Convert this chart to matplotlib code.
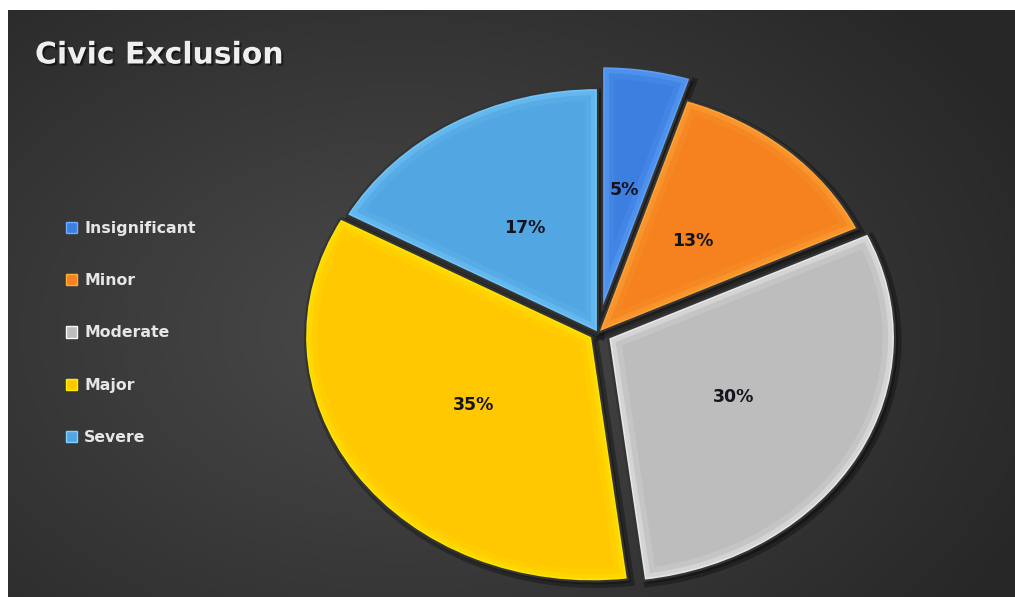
import numpy as np
import matplotlib
matplotlib.use("Agg")
import matplotlib.pyplot as plt
import matplotlib.patches as mpatches
import matplotlib.patheffects as pe

# categories and shares (percent), clockwise from 12 o'clock
categories = ["Insignificant", "Minor", "Moderate", "Major", "Severe"]
shares = [5, 13, 30, 35, 17]
explode = [0.09, 0.0, 0.04, 0.025, 0.0]

fill_colors = ["#3d7fe0", "#f5821f", "#bdbdbd", "#ffc800", "#52a6e2"]
rim_colors = ["#6aaeff", "#ffb040", "#f8f8f8", "#fff000", "#7fd2ff"]

W, H = 1015, 597
fig = plt.figure(figsize=(W / 100, H / 100), dpi=100)
fig.patch.set_facecolor("white")

# dark panel with soft radial shading
px0, py0 = 8, 10
bg = fig.add_axes([px0 / W, 0, 1 - px0 / W, (H - py0) / H])
yy, xx = np.mgrid[py0:H, px0:W]
d = np.sqrt(((xx - 400) / 700.0) ** 2 + ((yy - 330) / 480.0) ** 2)
d = np.clip(d, 0, 1)
c_in = np.array([0x4a, 0x4a, 0x4a]) / 255
c_out = np.array([0x27, 0x27, 0x27]) / 255
img = c_in[None, None, :] * (1 - d[..., None]) + c_out[None, None, :] * d[..., None]
bg.imshow(img, aspect="auto", interpolation="bilinear")
bg.axis("off")

# pie axes spans whole figure; stretched so the pie is an ellipse
ax = fig.add_axes([0, 0, 1, 1])
ax.patch.set_visible(False)
cx, cy, rx, ry = 598, 333, 287, 245

wedges, texts, autotexts = ax.pie(
    shares, colors=fill_colors, explode=explode, startangle=90,
    counterclock=False, autopct="%1.0f%%", pctdistance=0.5,
    wedgeprops=dict(linewidth=0),
    textprops=dict(color="#14141e", fontsize=12.5, fontweight="bold"),
)
ax.set_aspect("auto")
ax.set_xlim(-cx / rx, (W - cx) / rx)
ax.set_ylim((cy - H) / ry, cy / ry)
ax.axis("off")

for w, rim in zip(wedges, rim_colors):
    geo = dict(center=w.center, r=w.r, theta1=w.theta1, theta2=w.theta2)
    # drop shadow
    sh = mpatches.Wedge(**geo, facecolor="black", edgecolor="black",
                        alpha=0.3, lw=5, zorder=0.5)
    sh.set_transform(ax.transData + matplotlib.transforms.ScaledTranslation(
        3 / 100, -3 / 100, fig.dpi_scale_trans))
    ax.add_patch(sh)
    # soft bevel along the inside of the edges
    for lw, a in [(18, 0.15), (10, 0.3), (4, 0.5)]:
        bev = mpatches.Wedge(**geo, facecolor="none", edgecolor=rim,
                             lw=lw, alpha=a, zorder=1.5)
        ax.add_patch(bev)
        bev.set_clip_path(w)
    # thin dark separation line
    ax.add_patch(mpatches.Wedge(**geo, facecolor="none", edgecolor="#343434",
                                lw=1.6, zorder=2))

for t in autotexts:
    t.set_zorder(3)

fig.text(35 / W, 1 - 55 / H, "Civic Exclusion", fontsize=21.5, fontweight="bold",
         color="#efefef", va="center", ha="left",
         path_effects=[pe.withSimplePatchShadow(offset=(1.5, -1.5),
                                                shadow_rgbFace="black", alpha=0.5)])

handles = [mpatches.Patch(facecolor=f, edgecolor=r, lw=1.0)
           for f, r in zip(fill_colors, rim_colors)]
fig.legend(handles, categories, loc="upper left",
           bbox_to_anchor=(66 / W, 1 - 221 / H), frameon=False,
           handlelength=0.72, handleheight=0.72, handletextpad=0.45,
           labelspacing=2.37, borderpad=0, borderaxespad=0,
           prop=dict(weight="bold", size=11.3), labelcolor="#e6e6e6")

fig.savefig("out.png", dpi=100, facecolor=fig.get_facecolor())
